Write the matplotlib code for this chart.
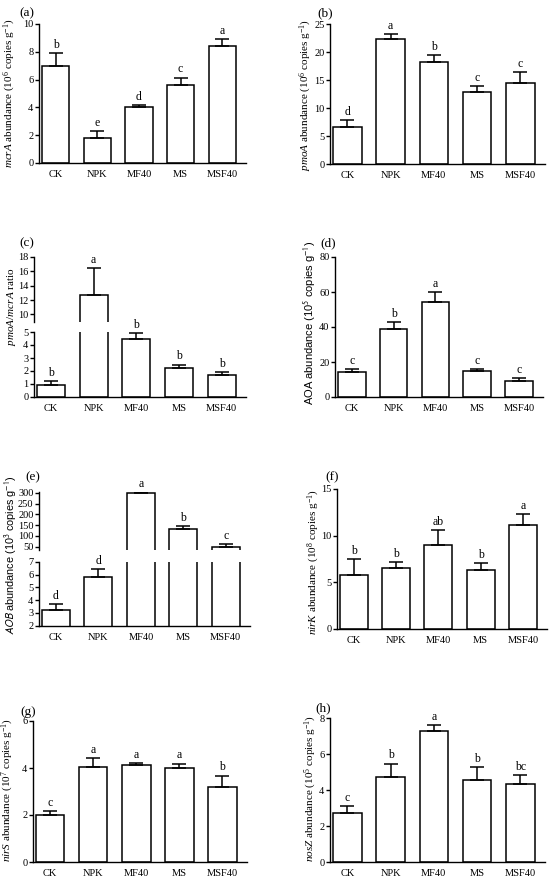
import matplotlib
matplotlib.use("Agg")
import matplotlib.pyplot as plt
import numpy as np

plt.rcParams['font.family'] = ['Liberation Serif', 'DejaVu Serif']
plt.rcParams['mathtext.fontset'] = 'custom'
plt.rcParams['mathtext.rm'] = 'Liberation Serif'
plt.rcParams['mathtext.it'] = 'Liberation Serif:italic'
plt.rcParams['axes.linewidth'] = 1.0

cats = ['CK', 'NPK', 'MF40', 'MS', 'MSF40']

mcrA = [7.0, 1.8, 4.0, 5.6, 8.45]
mcrA_err = [0.9, 0.5, 0.2, 0.55, 0.5]
mcrA_let = ['b', 'e', 'd', 'c', 'a']

pmoA = [6.6, 22.4, 18.2, 12.9, 14.5]
pmoA_err = [1.2, 0.8, 1.3, 1.1, 1.9]
pmoA_let = ['d', 'a', 'b', 'c', 'c']

ratio = [0.96, 12.7, 4.5, 2.25, 1.68]
ratio_err = [0.26, 3.8, 0.45, 0.25, 0.26]
ratio_let = ['b', 'a', 'b', 'b', 'b']

aoa = [14.3, 38.9, 54.5, 14.9, 9.1]
aoa_err = [1.5, 4.0, 5.7, 1.1, 1.8]
aoa_let = ['c', 'b', 'a', 'c', 'c']

aob = [3.2, 5.83, 300, 130, 50]
aob_err = [0.52, 0.62, 5, 15, 14]
aob_let = ['d', 'd', 'a', 'b', 'c']

nirK = [5.76, 6.52, 9.02, 6.3, 11.17]
nirK_err = [1.69, 0.64, 1.61, 0.72, 1.11]
nirK_let = ['b', 'b', 'ab', 'b', 'a']

nirS = [2.01, 4.06, 4.14, 3.99, 3.21]
nirS_err = [0.17, 0.37, 0.06, 0.2, 0.47]
nirS_let = ['c', 'a', 'a', 'a', 'b']

nosZ = [2.73, 4.71, 7.26, 4.54, 4.35]
nosZ_err = [0.4, 0.76, 0.33, 0.76, 0.49]
nosZ_let = ['c', 'b', 'a', 'b', 'bc']

W, H = 550, 883
fig = plt.figure(figsize=(W / 100, H / 100), dpi=100)

TICK_FS = 7.5
LET_FS = 8.5


def box(x0, x1, ytop, ybot):
    return [x0 / W, 1 - ybot / H, (x1 - x0) / W, (ybot - ytop) / H]


def style(ax, bottom=True):
    ax.spines['top'].set_visible(False)
    ax.spines['right'].set_visible(False)
    ax.spines['bottom'].set_visible(bottom)
    ax.tick_params(axis='y', direction='out', length=3, width=1.0, labelsize=TICK_FS, pad=1)
    ax.tick_params(axis='x', length=0, labelsize=TICK_FS, pad=5)
    ax.set_xlim(-0.4, 4.57)
    ax.set_xticks(range(len(cats)))
    if bottom:
        ax.set_xticklabels(cats)
    else:
        ax.set_xticklabels([])


def draw(axes, vals, errs, lets):
    x = np.arange(len(cats))
    for ax in axes:
        ax.bar(x, vals, width=0.66, color='white', edgecolor='black', linewidth=1.1, zorder=2)
        ax.errorbar(x, vals, yerr=[np.zeros(len(vals)), errs], fmt='none', ecolor='black',
                    elinewidth=1.1, capsize=5, capthick=1.1, zorder=3)
    for i, (v, e, l) in enumerate(zip(vals, errs, lets)):
        top = v + e
        for ax in axes:
            lo, hi = ax.get_ylim()
            if lo <= top <= hi + (hi - lo) * 0.1:
                ax.annotate(l, (i, top), xytext=(0, 1.5), textcoords='offset points',
                            ha='center', va='bottom', fontsize=LET_FS)
                break


def simple(rect, vals, errs, lets, ylim, ticks):
    ax = fig.add_axes(box(*rect))
    ax.set_ylim(*ylim)
    ax.set_yticks(ticks)
    style(ax)
    draw([ax], vals, errs, lets)
    return ax


# (a)
simple((39, 246, 24, 163), mcrA, mcrA_err, mcrA_let, (0, 10), [0, 2, 4, 6, 8, 10])
# (b)
simple((330, 545, 24, 164), pmoA, pmoA_err, pmoA_let, (0, 25), [0, 5, 10, 15, 20, 25])

# (c) broken
axc1 = fig.add_axes(box(34, 246, 257, 321.5))
axc2 = fig.add_axes(box(34, 246, 332, 397))
axc1.set_ylim(9, 18); axc1.set_yticks([10, 12, 14, 16, 18])
axc2.set_ylim(0, 5); axc2.set_yticks([0, 1, 2, 3, 4, 5])
style(axc1, bottom=False); style(axc2)
draw([axc1, axc2], ratio, ratio_err, ratio_let)

# (d)
simple((335, 543, 257, 397), aoa, aoa_err, aoa_let, (0, 80), [0, 20, 40, 60, 80])

# (e) broken
axe1 = fig.add_axes(box(39, 250, 491.5, 550))
axe2 = fig.add_axes(box(39, 250, 561.7, 625.7))
axe1.set_ylim(35, 306); axe1.set_yticks([50, 100, 150, 200, 250, 300])
axe2.set_ylim(2, 7); axe2.set_yticks([2, 3, 4, 5, 6, 7])
style(axe1, bottom=False); style(axe2)
draw([axe1, axe2], aob, aob_err, aob_let)

# (f)
simple((337, 547, 489, 629), nirK, nirK_err, nirK_let, (0, 15), [0, 5, 10, 15])
# (g)
simple((33, 247, 721, 862), nirS, nirS_err, nirS_let, (0, 6), [0, 2, 4, 6])
# (h)
simple((330, 545, 718, 862), nosZ, nosZ_err, nosZ_let, (0, 8), [0, 2, 4, 6, 8])


def ftext(px, py, s, **kw):
    fig.text(px / W, 1 - py / H, s, **kw)


LAB_FS = 9.5
for lab, px, py in [('(a)', 27, 13), ('(b)', 325, 13), ('(c)', 27, 243), ('(d)', 328, 243),
                    ('(e)', 33, 477), ('(f)', 332, 477), ('(g)', 28, 712), ('(h)', 323, 708)]:
    ftext(px, py, lab, ha='center', va='center', fontsize=LAB_FS)

YL_FS = 8
ykw = dict(rotation=90, ha='center', va='center', fontsize=YL_FS)
ftext(10, 93, r'$\it{mcrA}$ abundance (10$^{6}$ copies g$^{-1}$)', **ykw)
ftext(306, 95, r'$\it{pmoA}$ abundance (10$^{6}$ copies g$^{-1}$)', **ykw)
ftext(12, 307, r'$\it{pmoA/mcrA}$ ratio', **ykw)
ftext(310, 323, r'AOA abundance (10$^{5}$ copies g$^{-1}$)', family='Liberation Sans',
      math_fontfamily='stixsans', **ykw)
ftext(11, 555, r'$\it{AOB}$ abundance (10$^{3}$ copies g$^{-1}$)', family='Liberation Sans',
      math_fontfamily='stixsans', rotation=90, ha='center', va='center', fontsize=7.8)
ftext(314, 562, r'$\it{nirK}$ abundance (10$^{8}$ copies g$^{-1}$)', **ykw)
ftext(8, 790, r'$\it{nirS}$ abundance (10$^{7}$ copies g$^{-1}$)', **ykw)
ftext(311, 788, r'$\it{nosZ}$ abundance (10$^{5}$ copies g$^{-1}$)', **ykw)

fig.savefig('out.png', dpi=100)
